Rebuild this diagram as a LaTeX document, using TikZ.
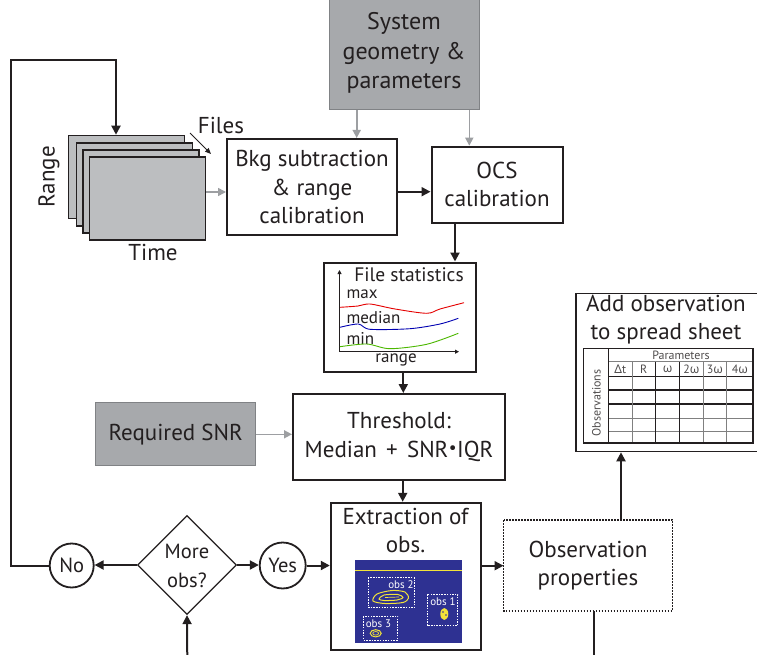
\documentclass[tikz,border=0pt]{standalone}
\usepackage{fontspec}
\setmainfont{PT Sans}
\newfontfamily\grk{Noto Sans}
\usetikzlibrary{arrows.meta,shapes.geometric,calc}
\definecolor{ink}{HTML}{231F20}
\definecolor{inputgray}{HTML}{A7A9AC}
\definecolor{inputedge}{HTML}{808285}
\definecolor{filegray}{HTML}{BCBEC0}
\definecolor{feedgray}{HTML}{9D9FA2}
\definecolor{plotblue}{HTML}{2E3192}
\definecolor{obsyellow}{HTML}{F2E33A}
\newcommand{\fbig}{\fontsize{23}{28.5}\selectfont}
\newcommand{\fsys}{\fontsize{24}{29.5}\selectfont}
\newcommand{\fmid}{\fontsize{20.5}{29}\selectfont}
\newcommand{\fsmall}{\fontsize{17}{20}\selectfont}
\newcommand{\ftiny}{\fontsize{11}{12}\selectfont}
\newcommand{\ftab}{\fontsize{12}{13}\selectfont}
\begin{document}
\begin{tikzpicture}[x=1pt,y=-1pt,
  text=ink,
  tip/.style={-{Triangle[length=9pt,width=9pt]}},
  arr/.style={draw=ink,line width=2pt,tip},
  garr/.style={draw=feedgray,line width=1.6pt,-{Triangle[length=8pt,width=8pt]}},
  box/.style={draw=ink,line width=2pt,fill=white,inner sep=0pt,align=center,font=\fbig},
  inbox/.style={draw=inputedge,line width=1pt,fill=inputgray,inner sep=0pt,align=center,font=\fbig},
  filesheet/.style={draw=ink,line width=1.6pt,fill=filegray,minimum width=116pt,minimum height=83pt,inner sep=0pt},
  answer/.style={circle,draw=ink,line width=1.8pt,fill=white,inner sep=0pt,font=\fmid},
  obsframe/.style={draw=white,line width=0.9pt,dash pattern=on 1.5pt off 1.2pt},
  contour/.style={draw=obsyellow,line width=1pt},
  grid thick/.style={draw=ink,line width=1.3pt},
  grid thin/.style={draw=gray,line width=0.8pt}
]
\useasboundingbox (0,0) rectangle (757,655);
\clip (0,0) rectangle (757,655);

% ---- input data: stack of range-time files
\node[filesheet] (f1) at (126.3,177) {};
\node[filesheet] (f2) at (134.3,184.3) {};
\node[filesheet] (f3) at (141,191.5) {};
\node[filesheet] (f4) at (147.3,198.7) {};
\node[rotate=90,font=\fbig] (lrange) at (49,177) {Range};
\node[font=\fbig] (ltime) at (153,252) {Time};
\node[font=\fbig] (lfiles) at (221,125) {Files};
\coordinate (fa) at (190,133);
\coordinate (fb) at (211,154);
\draw[draw=ink,line width=1pt,-{Triangle[length=6pt,width=5pt]}] (fa) -- (fb);

% ---- processing boxes
\node[inbox,font=\fsys,minimum width=150pt,minimum height=114pt] (sys) at (404,53) {System\\geometry \&\\parameters};
\node[box,minimum width=170pt,minimum height=96pt] (bkg) at (312,187) {Bkg subtraction\\\& range\\calibration};
\node[box,minimum width=131pt,minimum height=76pt] (ocs) at (497,184.7) {OCS\\calibration};
\node[box,minimum width=152pt,minimum height=109pt] (stats) at (400,317) {};
\node[box,minimum width=212pt,minimum height=86pt] (thr) at (399,437) {Threshold:\\Median\hspace{0.4em}+\hspace{0.4em}SNR\hspace{0.5pt}\raisebox{0.3ex}{\scalebox{0.75}{\textbullet}}\hspace{0.5pt}IQR};
\node[inbox,minimum width=160pt,minimum height=63pt] (snr) at (175.7,434.3) {Required SNR};
\node[box,minimum width=150pt,minimum height=147pt] (ext) at (405.8,576.3) {};
\node[box,draw=none,minimum width=167pt,minimum height=89pt] (props) at (588,565.5) {Observation\\properties};
\draw[ink,line width=1.6pt,dash pattern=on 1.6pt off 1.4pt] (props.north west) rectangle (props.south east);
\node[draw=ink,line width=1.6pt,inner sep=0pt,minimum width=200pt,minimum height=158pt] (sheet) at (676,372.5) {};

% ---- decision and answers
\node[diamond,aspect=1,draw=ink,line width=1.3pt,fill=white,inner sep=0pt,minimum width=99pt,minimum height=99pt] (dec) at (187,565) {};
\node[align=center,font=\fmid] (dectext) at (187,566) {More\\obs?};
\node[answer,minimum size=44pt] (no) at (71.7,565.5) {No};
\node[answer,minimum size=46pt] (yes) at (282.7,565.5) {Yes};

% ---- file statistics sketch
\node[font=\fontsize{19.5}{21}\selectfont] (stitle) at (409,275) {File statistics};
\coordinate (ax0) at (339.5,351.7);
\draw[ink,line width=0.9pt,-{Triangle[length=4pt,width=4pt]}] (ax0) -- (339.5,270);
\draw[ink,line width=0.9pt,-{Triangle[length=4pt,width=4pt]}] (ax0) -- (459,351.7);
\node[font=\fsmall,anchor=west] (lmax) at (343,294.5) {max};
\node[font=\fsmall,anchor=west] (lmed) at (343,317.5) {median};
\node[font=\fsmall,anchor=west] (lmin) at (343,338) {min};
\node[font=\fsmall] (lrng) at (396,359.5) {range};
\draw[red!90!black,line width=0.9pt] plot[smooth] coordinates {(340,307.3) (358,306) (370,304) (395,309) (426.7,313.3) (440,309) (464,302.7)};
\draw[blue!70!black,line width=0.9pt] plot[smooth] coordinates {(340,327.3) (358.3,324) (370,329.3) (410,328.7) (440,324) (458.3,318.3)};
\draw[green!60!black!70!yellow,line width=0.9pt] plot[smooth] coordinates {(340,346.7) (366.7,344) (390,348.7) (426.7,344.3) (458.3,333.3)};

% ---- extraction of observations: detection image
\node[font=\fbig,align=center] (exttext) at (405.5,530.5) {Extraction of\\obs.};
\fill[plotblue] (355,560) rectangle (461.7,643.3);
\draw[obsyellow,line width=1.4pt] (355,570.7) -- (461.7,570.7);
\draw[obsframe] (368.3,577.7) rectangle (414.3,607.7);
\draw[obsframe] (427.3,594.3) rectangle (457.7,625.7);
\draw[obsframe] (363.3,616) rectangle (397.7,640);
\node[text=white,font=\ftiny] (o2) at (401,585) {obs 2};
\node[text=white,font=\ftiny] (o1) at (443,601.7) {obs 1};
\node[text=white,font=\ftiny] (o3) at (378.5,624) {obs 3};
\draw[contour] plot[smooth cycle] coordinates {(373,601) (377,594) (392,590.5) (405,592) (408.5,598) (403,602.5) (385,603.5)};
\draw[contour] plot[smooth cycle] coordinates {(379,599) (384,595) (398,594.5) (403,597.5) (397,600) (384,600.5)};
\draw[contour,line width=0.7pt] (385,597.5) -- (399,597);
\fill[obsyellow] (444.3,614) ellipse[x radius=4pt,y radius=6pt];
\fill[plotblue] (443,612) circle[radius=0.8pt] (446,615) circle[radius=0.8pt];
\draw[contour] (375.7,633.3) ellipse[x radius=5.5pt,y radius=3.6pt];
\draw[contour,line width=0.7pt] (375.7,633.3) ellipse[x radius=3pt,y radius=1.8pt];

% ---- spreadsheet of observations
\node[font=\fbig,align=center] (sheettitle) at (666,319.5) {Add observation\\to spread sheet};
\coordinate (tl) at (583.5,348.3);
\coordinate (br) at (753,443);
% grid
\draw[grid thin] (608.7,361.7) -- (753,361.7);
\foreach \yy in {418,431} \draw[grid thin] (608.7,\yy) -- (753,\yy);
\foreach \yy in {376.7,390,404} \draw[grid thick] (608.7,\yy) -- (753,\yy);
\foreach \xx in {632,703.3,726.7} \draw[grid thin] (\xx,361.7) -- (\xx,443);
\foreach \xx in {655.7,679.5} \draw[grid thick] (\xx,361.7) -- (\xx,443);
\draw[grid thick] (608.7,348.3) -- (608.7,443);
\draw[grid thick] (tl) rectangle (br);
\node[font=\ftab,text=ink!80] (params) at (681,355) {Parameters};
\node[font=\ftab,rotate=90,text=ink!80] (obslabel) at (596.5,403) {Observations};
\foreach \txt/\xx in {{\grk Δ}t/620.3, R/643.8, {\grk ω}/667.6, 2{\grk ω}/691.4, 3{\grk ω}/715, 4{\grk ω}/740}
  \node[font=\ftab,text=ink!80] at (\xx,369.5) {\txt};

% ---- connectors
\coordinate (loopL) at (11,60);
\coordinate (loopR) at (116,60);
\draw[arr] (no.west) -| (loopL) -- (loopR) -- (loopR |- f1.north);
\draw[garr] ([yshift=6.7pt]f4.east) -- ([yshift=6.7pt]f4.east -| bkg.west);
\draw[garr] ([xshift=-47.3pt]sys.south) -- ([xshift=-47.3pt]sys.south |- bkg.north);
\draw[garr] ([xshift=65.3pt]sys.south) -- ([xshift=65.3pt]sys.south |- ocs.north);
\draw[arr] ([yshift=-4.7pt]bkg.east) -- ([yshift=-4.7pt]bkg.east -| ocs.west);
\draw[arr] ([xshift=-42pt]ocs.south) -- ([xshift=-42pt]ocs.south |- stats.north);
\draw[arr] ([xshift=3.3pt]stats.south) -- ([xshift=3.3pt]stats.south |- thr.north);
\draw[garr] (snr.east) -- (snr.east -| thr.west);
\draw[arr] ([xshift=3.7pt]thr.south) -- ([xshift=3.7pt]thr.south |- ext.north);
\draw[arr] (dec.west) -- (dec.west -| no.east);
\draw[arr] (dec.east) -- (dec.east -| yes.west);
\draw[arr] (yes.east) -- (yes.east -| ext.west);
\draw[arr] ([yshift=10.6pt]ext.east) -- ([yshift=10.6pt]ext.east -| props.west);
\draw[arr] ([xshift=33pt]props.north) -- ([xshift=33pt]props.north |- sheet.south);
\coordinate (outR) at (594.3,660);
\coordinate (inL) at (187.3,660);
\draw[draw=ink,line width=2pt] (props.south -| outR) -- (outR);
\draw[arr] (inL) -- (dec.south);
\end{tikzpicture}
\end{document}
